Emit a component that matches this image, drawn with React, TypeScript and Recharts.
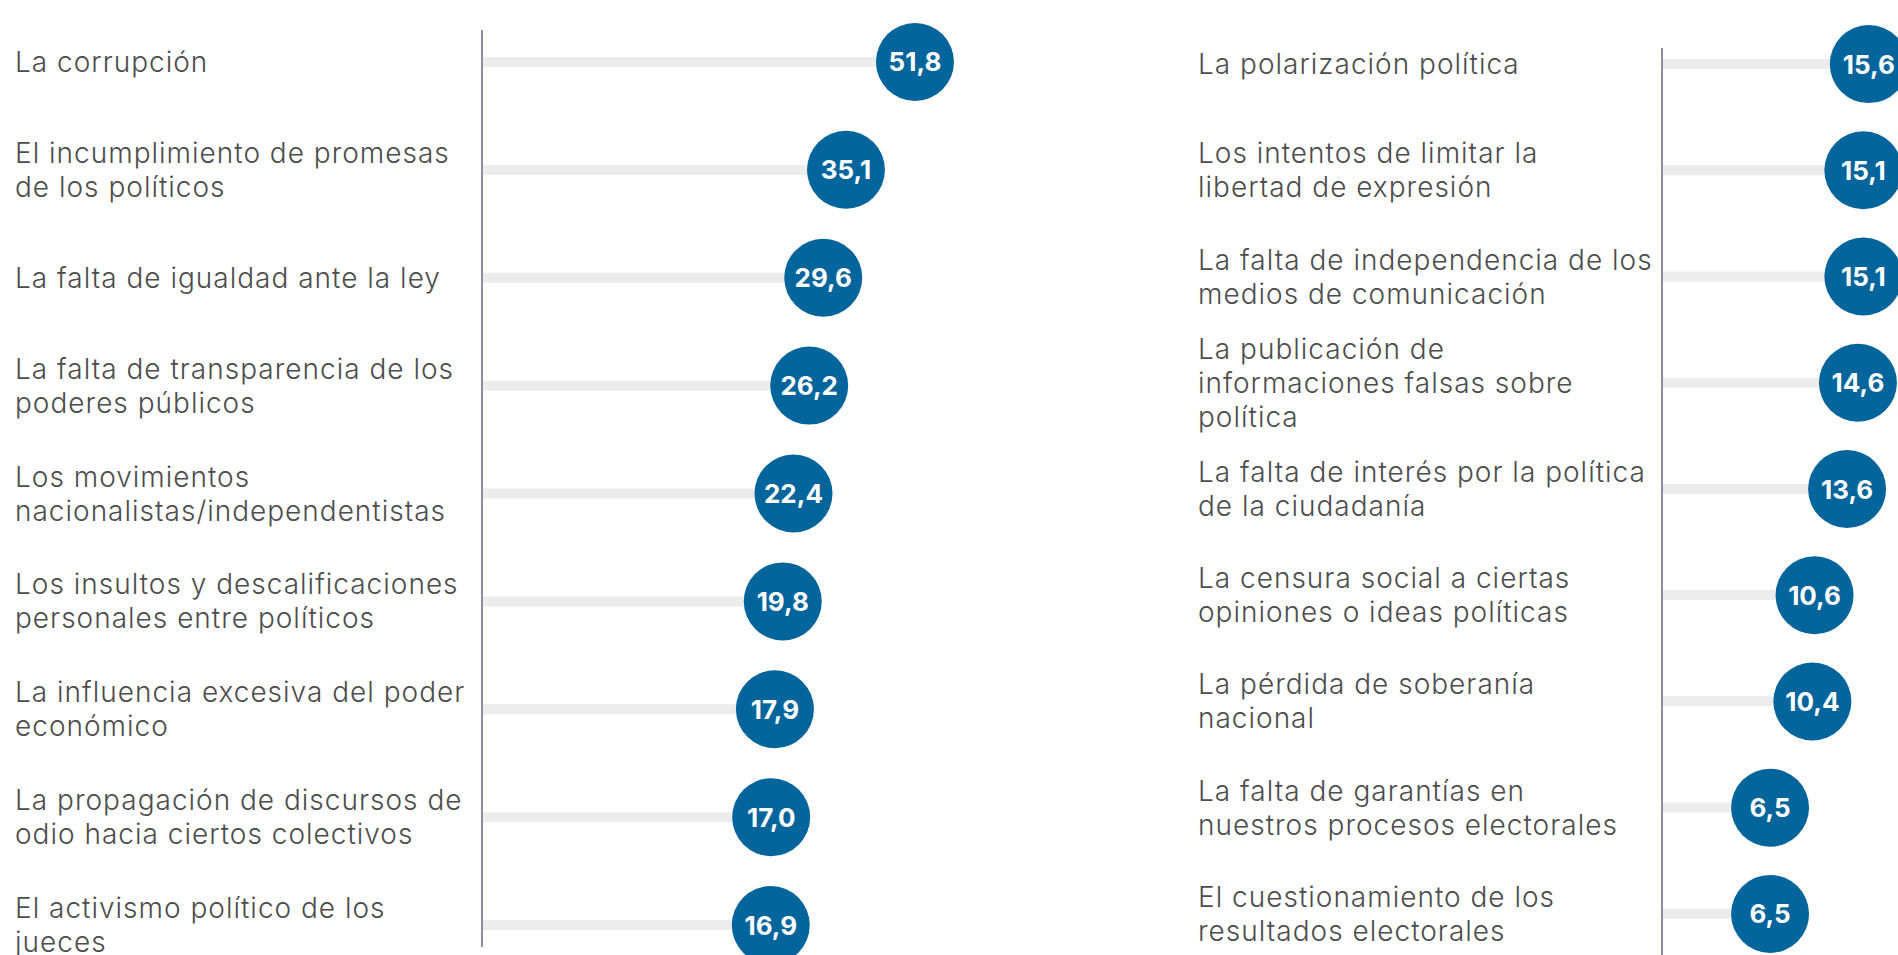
import { ComposedChart, Bar, Scatter, XAxis, YAxis } from 'recharts';

// Left column
const leftCategories = [
  'La corrupción',
  'El incumplimiento de promesas\nde los políticos',
  'La falta de igualdad ante la ley',
  'La falta de transparencia de los\npoderes públicos',
  'Los movimientos\nnacionalistas/independentistas',
  'Los insultos y descalificaciones\npersonales entre políticos',
  'La influencia excesiva del poder\neconómico',
  'La propagación de discursos de\nodio hacia ciertos colectivos',
  'El activismo político de los\njueces',
];
const leftValues = [51.8, 35.1, 29.6, 26.2, 22.4, 19.8, 17.9, 17.0, 16.9];

// Right column
const rightCategories = [
  'La polarización política',
  'Los intentos de limitar la\nlibertad de expresión',
  'La falta de independencia de los\nmedios de comunicación',
  'La publicación de\ninformaciones falsas sobre\npolítica',
  'La falta de interés por la política\nde la ciudadanía',
  'La censura social a ciertas\nopiniones o ideas políticas',
  'La pérdida de soberanía\nnacional',
  'La falta de garantías en\nnuestros procesos electorales',
  'El cuestionamiento de los\nresultados electorales',
];
const rightValues = [15.6, 15.1, 15.1, 14.6, 13.6, 10.6, 10.4, 6.5, 6.5];

const BLUE = '#03659b';
const TRACK = '#ececec';
const AXIS = '#8f8ca3';
const TEXT = '#4d4d4d';
const FONT = 'Inter, "Open Sans", sans-serif';

const fmt = (v: number) => v.toFixed(1).replace('.', ',');

const LabelTick = ({ y, payload, labelX }: any) => {
  const lines = String(payload.value).split('\n');
  const n = lines.length;
  return (
    <text
      x={labelX}
      y={y}
      fill={TEXT}
      fontFamily={FONT}
      fontWeight={300}
      fontSize={28}
      letterSpacing={1}
      textAnchor="start"
      dominantBaseline="central"
    >
      {lines.map((line, i) => (
        <tspan key={i} x={labelX} y={y + (i - (n - 1) / 2) * 34}>
          {line}
        </tspan>
      ))}
    </text>
  );
};

const Bubble = (props: any) => {
  const { cx, cy, payload } = props;
  return (
    <g>
      <circle cx={cx} cy={cy} r={39} fill={BLUE} />
      <text
        x={cx}
        y={cy}
        fill="#fff"
        fontFamily={FONT}
        fontWeight={700}
        fontSize={26}
        textAnchor="middle"
        dominantBaseline="central"
      >
        {fmt(payload.value)}
      </text>
    </g>
  );
};

interface PanelProps {
  categories: string[];
  values: number[];
  domain: [number, number];
  left: number;
  axisWidth: number;
  labelX: number;
  top: number;
  bottom: number;
  padTop: number;
  padBottom: number;
}

const Panel = ({ categories, values, domain, left, axisWidth, labelX, top, bottom, padTop, padBottom }: PanelProps) => {
  const data = categories.map((name, i) => ({ name, value: values[i] }));
  return (
    <div style={{ position: 'absolute', left, top: 0, width: 960, height: 955 }}>
      <ComposedChart
        layout="vertical"
        width={960}
        height={955}
        data={data}
        margin={{ top, right: 0, bottom, left: 0 }}
      >
        <XAxis type="number" domain={domain} allowDataOverflow hide />
        <YAxis
          type="category"
          dataKey="name"
          width={axisWidth}
          interval={0}
          axisLine={{ stroke: AXIS, strokeWidth: 2 }}
          tickLine={false}
          padding={{ top: padTop, bottom: padBottom }}
          tick={<LabelTick labelX={labelX} />}
        />
        <Bar
          dataKey={(d: any) => [domain[0], d.value]}
          fill={TRACK}
          barSize={10}
          isAnimationActive={false}
        />
        <Scatter dataKey="value" shape={<Bubble />} isAnimationActive={false} />
      </ComposedChart>
    </div>
  );
};

export default function App() {
  return (
    <div
      style={{
        position: 'fixed',
        left: 0,
        top: 0,
        width: 1898,
        height: 955,
        overflow: 'hidden',
        background: '#fff',
      }}
    >
      <Panel
        categories={leftCategories}
        values={leftValues}
        domain={[-53.0, 62.7]}
        left={0}
        axisWidth={482}
        labelX={15}
        top={30}
        bottom={8}
        padTop={-22}
        padBottom={-32}
      />
      <Panel
        categories={rightCategories}
        values={rightValues}
        domain={[-3.46, 20.32]}
        left={960}
        axisWidth={702}
        labelX={238}
        top={48}
        bottom={0}
        padTop={-37}
        padBottom={-12}
      />
    </div>
  );
}
